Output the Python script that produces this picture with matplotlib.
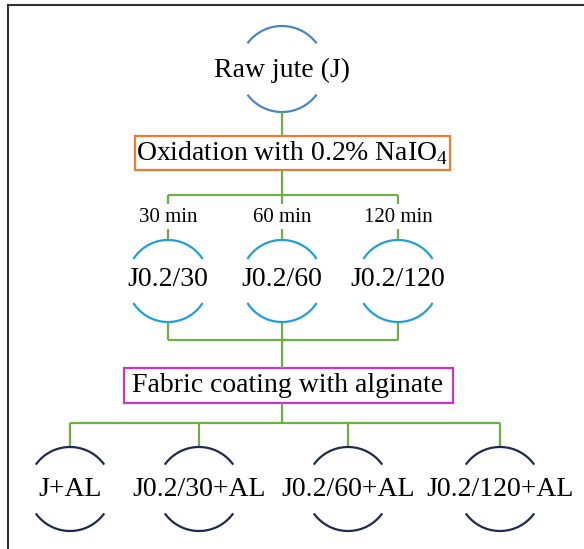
import numpy as np
import matplotlib.pyplot as plt
from matplotlib.patches import Rectangle

plt.rcParams['font.family'] = ['Liberation Serif', 'DejaVu Serif']
plt.rcParams['mathtext.fontset'] = 'custom'
plt.rcParams['mathtext.rm'] = 'Liberation Serif'

# --- diagram content ---
top_label = 'Raw jute (J)'
step1_label = r'Oxidation with 0.2% NaIO$_4$'
times = ['30 min', '60 min', '120 min']
oxidised = ['J0.2/30', 'J0.2/60', 'J0.2/120']
step2_label = 'Fabric coating with alginate'
coated = ['J+AL', 'J0.2/30+AL', 'J0.2/60+AL', 'J0.2/120+AL']

# --- layout (pixels, y downwards) ---
mid_x = [168, 282, 398]
bot_x = [70, 199, 348, 500]

green = '#70ad47'


def bracket(ax, cx, cy, r, ang, color):
    t = np.radians(np.linspace(ang, 180 - ang, 60))
    ax.plot(cx + r * np.cos(t), cy - r * np.sin(t), color=color, lw=1.6)
    ax.plot(cx + r * np.cos(t), cy + r * np.sin(t), color=color, lw=1.6)


def gline(ax, xs, ys):
    ax.plot(xs, ys, color=green, lw=1.6, solid_capstyle='butt')


fig = plt.figure(figsize=(5.84, 5.49), dpi=100)
ax = fig.add_axes([0, 0, 1, 1])
ax.set_xlim(0, 584)
ax.set_ylim(549, 0)
ax.axis('off')

# frame (top and left only)
ax.plot([8, 584], [5, 5], color='#333333', lw=1.5)
ax.plot([8, 8], [5, 549], color='#333333', lw=1.5)

# raw jute
bracket(ax, 282, 69, 43, 38, '#4a86c5')
ax.text(282, 70, top_label, ha='center', va='center', fontsize=20)
gline(ax, [282, 282], [112, 136])

# oxidation box
ax.add_patch(Rectangle((135, 136), 315, 34, fc='white', ec='#ed7d31', lw=1.6))
ax.text(292, 153, step1_label, ha='center', va='center', fontsize=20)
gline(ax, [282, 282], [170, 195])
gline(ax, [mid_x[0], mid_x[-1]], [195, 195])

for x, t, lab in zip(mid_x, times, oxidised):
    gline(ax, [x, x], [195, 204])
    ax.text(x, 217, t, ha='center', va='center', fontsize=15)
    gline(ax, [x, x], [229, 239])
    bracket(ax, x, 281, 41, 34, '#1fa0db')
    ax.text(x, 279, lab, ha='center', va='center', fontsize=20)
    gline(ax, [x, x], [323, 340])

gline(ax, [mid_x[0], mid_x[-1]], [340, 340])
gline(ax, [282, 282], [340, 368])

# coating box
ax.add_patch(Rectangle((124, 368), 329, 35, fc='white', ec='#cc33cc', lw=1.6))
ax.text(288, 386, step2_label, ha='center', va='center', fontsize=20)
gline(ax, [282, 282], [403, 423])
gline(ax, [bot_x[0], bot_x[-1]], [423, 423])

for x, lab in zip(bot_x, coated):
    gline(ax, [x, x], [423, 447])
    bracket(ax, x, 489, 42, 37, '#1f2a4f')
    ax.text(x, 490, lab, ha='center', va='center', fontsize=20)

fig.savefig('out.png', dpi=100)
